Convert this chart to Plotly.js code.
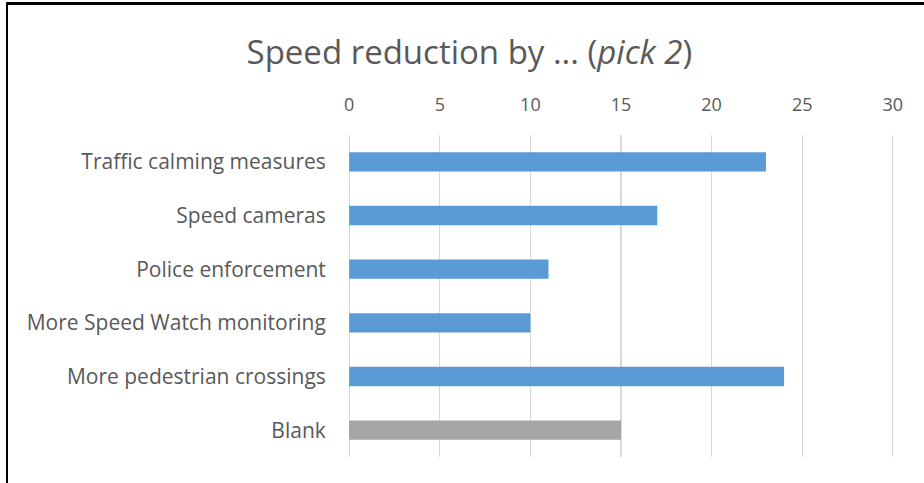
<!DOCTYPE html>
<html>
<head>
<meta charset="utf-8">
<script src="https://cdn.plot.ly/plotly-3.0.1.min.js"></script>
<style>
  html, body { margin: 0; padding: 0; background: #fff; }
  #chart { width: 924px; height: 483px; position: relative; }
  #frame { position: absolute; left: 6px; top: 2px; width: 930px; height: 500px;
           border-left: 2px solid #000; border-top: 3px solid #000; pointer-events: none; }
</style>
</head>
<body>
<div id="chart"></div>
<div id="frame"></div>
<script>
const categories = [
  "Traffic calming measures",
  "Speed cameras",
  "Police enforcement",
  "More Speed Watch monitoring",
  "More pedestrian crossings",
  "Blank"
];
const values = [23, 17, 11, 10, 24, 15];
const barColors = ["#5b9bd5", "#5b9bd5", "#5b9bd5", "#5b9bd5", "#5b9bd5", "#a5a5a5"];
const tickValues = [0, 5, 10, 15, 20, 25, 30];

const font = "'Open Sans', 'DejaVu Sans', sans-serif";

const trace = {
  type: "bar",
  orientation: "h",
  y: categories,
  x: values,
  marker: { color: barColors },
  hoverinfo: "x+y"
};

const layout = {
  width: 924,
  height: 483,
  margin: { l: 347, r: 29, t: 135, b: 26, pad: 0 },
  paper_bgcolor: "#ffffff",
  plot_bgcolor: "#ffffff",
  bargap: 0.64,
  showlegend: false,
  title: {
    text: "Speed reduction by ... (<i>pick 2</i>)",
    font: { family: font, size: 33, color: "#595959" },
    xref: "container", x: 0.508, xanchor: "center",
    yref: "container", y: 0.892, yanchor: "middle"
  },
  xaxis: {
    side: "top",
    range: [-0.12, 30.12],
    tickvals: tickValues,
    ticktext: tickValues.map(String),
    showgrid: true,
    gridcolor: "#d9d9d9",
    gridwidth: 1.3,
    zeroline: false,
    showline: false,
    ticks: "outside",
    ticklen: 16,
    tickcolor: "rgba(0,0,0,0)",
    tickfont: { family: font, size: 18, color: "#595959" },
    fixedrange: true
  },
  yaxis: {
    type: "category",
    categoryorder: "array",
    categoryarray: categories,
    autorange: "reversed",
    showgrid: false,
    zeroline: false,
    showline: false,
    ticks: "outside",
    ticklen: 16,
    tickcolor: "rgba(0,0,0,0)",
    tickfont: { family: font, size: 21, color: "#595959" },
    fixedrange: true
  }
};

Plotly.newPlot("chart", [trace], layout, { displayModeBar: false, staticPlot: true });
</script>
</body>
</html>
